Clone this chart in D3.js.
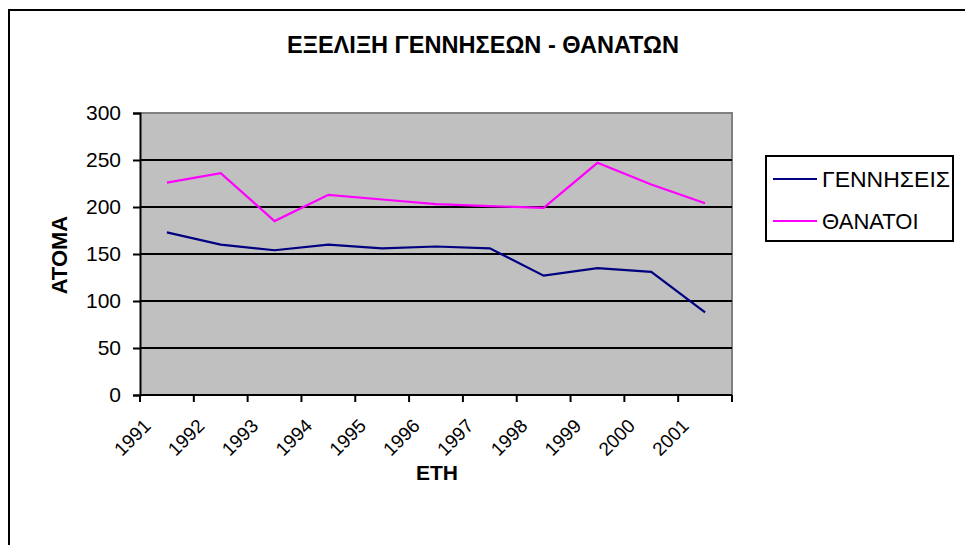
<!DOCTYPE html>
<html>
<head>
<meta charset="utf-8">
<script src="https://cdn.jsdelivr.net/npm/d3@7"></script>
<style>
  html, body { margin: 0; padding: 0; background: #fff; }
  svg { display: block; font-family: Arial, "Liberation Sans", sans-serif; }
</style>
</head>
<body>
<svg id="chart" width="965" height="545"></svg>
<script>
const years = ["1991","1992","1993","1994","1995","1996","1997","1998","1999","2000","2001"];
const births = [173, 160, 154, 160, 156, 158, 156, 127, 135, 131, 88];
const deaths = [226, 236, 185, 213, 208, 203, 201, 199, 247, 224, 204];
const yTicks = [0, 50, 100, 150, 200, 250, 300];
const seriesNames = ["ΓΕΝΝΗΣΕΙΣ", "ΘΑΝΑΤΟΙ"];
const seriesColors = ["#000080", "#FF00FF"];
const titleText = "ΕΞΕΛΙΞΗ ΓΕΝΝΗΣΕΩΝ - ΘΑΝΑΤΩΝ";
const xTitle = "ΕΤΗ";
const yTitle = "ΑΤΟΜΑ";

const svg = d3.select("#chart");
const W = 965, H = 545;
const plot = { left: 140, top: 113, right: 732, bottom: 395 };

// outer chart border
svg.append("rect").attr("x", 9).attr("y", 10).attr("width", W + 10).attr("height", H + 10)
  .attr("fill", "#fff").attr("stroke", "#000").attr("stroke-width", 2);

const x = d3.scaleBand().domain(years).range([plot.left, plot.right]).padding(0);
const y = d3.scaleLinear().domain([0, 300]).range([plot.bottom, plot.top]);

// plot background
svg.append("rect").attr("x", plot.left).attr("y", plot.top)
  .attr("width", plot.right - plot.left).attr("height", plot.bottom - plot.top)
  .attr("fill", "#C0C0C0");
// gray plot border (top & right)
svg.append("path")
  .attr("d", `M${plot.left},${plot.top}H${plot.right}V${plot.bottom}`)
  .attr("fill", "none").attr("stroke", "#808080").attr("stroke-width", 2);

// gridlines
svg.append("g").selectAll("line").data(yTicks.filter(t => t > 0 && t < 300)).join("line")
  .attr("x1", plot.left).attr("x2", plot.right)
  .attr("y1", d => y(d)).attr("y2", d => y(d))
  .attr("stroke", "#000").attr("stroke-width", 2);

// y axis
const yAxis = svg.append("g").attr("transform", `translate(${plot.left},0)`)
  .call(d3.axisLeft(y).tickValues(yTicks).tickSize(7).tickPadding(12));
yAxis.select(".domain").attr("stroke", "#000").attr("stroke-width", 2);
yAxis.selectAll(".tick line").attr("stroke", "#000").attr("stroke-width", 2);
yAxis.selectAll(".tick text").attr("font-size", 21).attr("fill", "#000")
  .attr("font-family", "Arial, 'Liberation Sans', sans-serif");

// x axis line + ticks at band boundaries
const xg = svg.append("g");
xg.append("line").attr("x1", plot.left).attr("x2", plot.right)
  .attr("y1", plot.bottom).attr("y2", plot.bottom).attr("stroke", "#000").attr("stroke-width", 2);
const bounds = years.map(d => x(d)).concat([x(years[years.length - 1]) + x.bandwidth()]);
xg.selectAll("line.tk").data(bounds).join("line").attr("class", "tk")
  .attr("x1", d => d).attr("x2", d => d)
  .attr("y1", plot.bottom).attr("y2", plot.bottom + 7)
  .attr("stroke", "#000").attr("stroke-width", 2);
xg.selectAll("text").data(years).join("text")
  .attr("transform", d => `translate(${x(d) + x.bandwidth() / 2 - 15},${plot.bottom + 32}) rotate(-45)`)
  .attr("text-anchor", "end")
  .attr("font-size", 19).attr("fill", "#000")
  .text(d => d);

// lines
const line = d3.line().x((d, i) => x(years[i]) + x.bandwidth() / 2).y(d => y(d));
[births, deaths].forEach((s, k) => {
  svg.append("path").datum(s).attr("d", line)
    .attr("fill", "none").attr("stroke", seriesColors[k]).attr("stroke-width", 2.2)
    .attr("stroke-linejoin", "miter");
});

// title
svg.append("text").attr("x", 483).attr("y", 53).attr("text-anchor", "middle")
  .attr("font-size", 23).attr("font-weight", "bold")
  .attr("textLength", 392).attr("lengthAdjust", "spacingAndGlyphs")
  .text(titleText);

// axis titles
svg.append("text").attr("x", 437).attr("y", 480).attr("text-anchor", "middle")
  .attr("font-size", 21).attr("font-weight", "bold").text(xTitle);
svg.append("text").attr("transform", "translate(67,255) rotate(-90)").attr("text-anchor", "middle")
  .attr("font-size", 22).attr("font-weight", "bold").text(yTitle);

// legend
const lg = svg.append("g");
lg.append("rect").attr("x", 766).attr("y", 156).attr("width", 187).attr("height", 85)
  .attr("fill", "#fff").attr("stroke", "#000").attr("stroke-width", 2);
seriesNames.forEach((n, i) => {
  const yy = 179 + i * 42;
  lg.append("line").attr("x1", 773).attr("x2", 817).attr("y1", yy).attr("y2", yy)
    .attr("stroke", seriesColors[i]).attr("stroke-width", 2.2);
  const t = lg.append("text").attr("x", 822).attr("y", yy + 8).attr("font-size", 22).attr("fill", "#000")
    .text(n);
  if (i === 0) t.attr("textLength", 128).attr("lengthAdjust", "spacingAndGlyphs");
});
</script>
</body>
</html>
